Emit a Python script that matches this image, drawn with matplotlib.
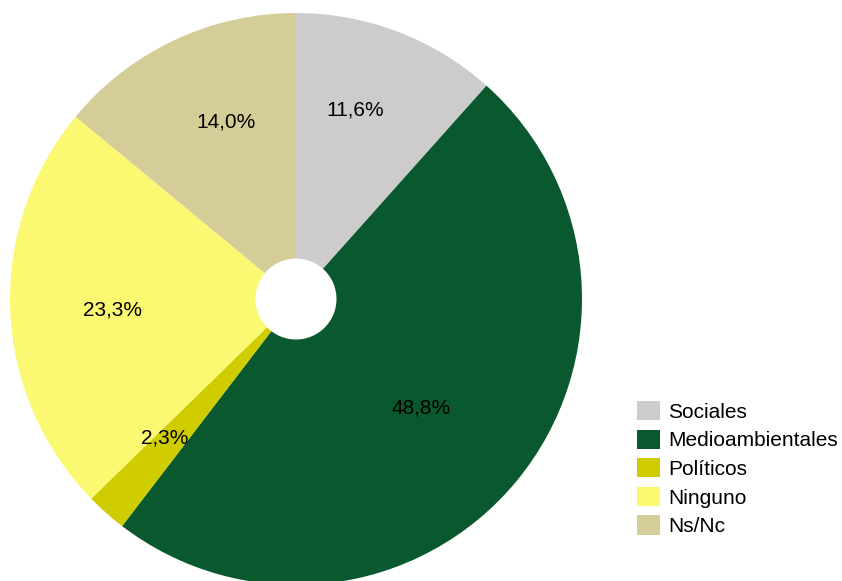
import numpy as np
import matplotlib.pyplot as plt

plt.rcParams['font.family'] = ['Liberation Sans', 'DejaVu Sans']

categories = ["Sociales", "Medioambientales", "Políticos", "Ninguno", "Ns/Nc"]
values = [11.6, 48.8, 2.3, 23.3, 14.0]
colors = ["#cccccc", "#0a582e", "#cfcc00", "#fbf871", "#d5cd98"]
# label anchors (pixel x, baseline y from top), as in the original
label_pos = [(355, 116), (421, 413), (165, 444), (112.5, 316), (226.5, 127)]

W, H = 842, 581
fig = plt.figure(figsize=(W / 100, H / 100), dpi=100)
ax = fig.add_axes([0, 0, 1, 1])

cx, cy, R = 296, H - 299, 286
wedges, _ = ax.pie(values, colors=colors, startangle=90, counterclock=False,
                   center=(cx, cy), radius=R, frame=True,
                   wedgeprops=dict(linewidth=0))

for v, (lx, ly) in zip(values, label_pos):
    ax.text(lx, H - ly, f"{v:.1f}%".replace(".", ","), ha="center",
            va="baseline", fontsize=15, color="black")

hole = plt.Circle((cx, cy), 40.5, color="white", linewidth=0)
ax.add_patch(hole)

ax.set_xlim(0, W)
ax.set_ylim(0, H)
ax.set_aspect("equal")
ax.axis("off")

ax.legend(wedges, categories, loc="upper left",
          bbox_to_anchor=(637 / W, 1 - 401 / H), bbox_transform=fig.transFigure,
          frameon=False, fontsize=15, borderpad=0, borderaxespad=0,
          handlelength=1.1, handleheight=1.05, handletextpad=0.38,
          labelspacing=0.375)

fig.savefig("out.png", dpi=100)
